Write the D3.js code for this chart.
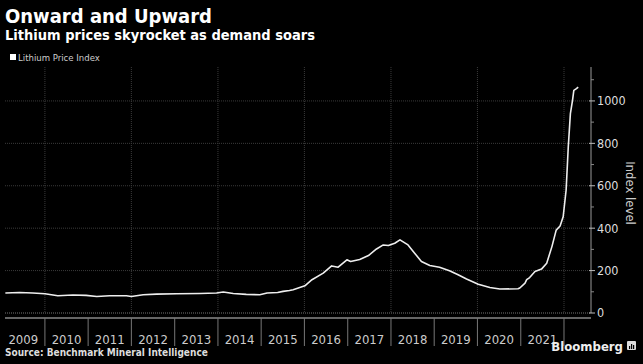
<!DOCTYPE html>
<html>
<head>
<meta charset="utf-8">
<script src="https://cdn.jsdelivr.net/npm/d3@7"></script>
<style>
  body { margin: 0; background: #000; }
  svg { display: block; font-family: "DejaVu Sans Condensed", "DejaVu Sans", sans-serif; font-stretch: condensed; }
</style>
</head>
<body>
<svg id="chart"></svg>
<script>
const width = 643;
const height = 364;

// Lithium Price Index (Benchmark Mineral Intelligence)
const dates = [
  "2009-02-01", "2009-06-01", "2009-09-20", "2010-01-01", "2010-04-20", "2010-08-25",
  "2010-12-15", "2011-03-15", "2011-07-01", "2011-11-20", "2012-01-01", "2012-04-10",
  "2012-08-01", "2013-01-20", "2013-08-01", "2013-12-20", "2014-02-15", "2014-05-10",
  "2014-08-28", "2014-12-20", "2015-02-20", "2015-05-20", "2015-07-05", "2015-08-28",
  "2015-09-28", "2016-01-05", "2016-03-05", "2016-06-08", "2016-08-18", "2016-10-12",
  "2016-12-25", "2017-01-25", "2017-04-12", "2017-06-25", "2017-09-01", "2017-10-28",
  "2017-12-10", "2018-02-02", "2018-03-18", "2018-05-25", "2018-07-20", "2018-09-15",
  "2018-11-25", "2019-02-15", "2019-05-10", "2019-07-22", "2019-10-01", "2020-01-08",
  "2020-04-15", "2020-07-08", "2020-12-08", "2020-12-24", "2021-02-06", "2021-02-20",
  "2021-03-17", "2021-05-01", "2021-06-25", "2021-08-08", "2021-09-21", "2021-10-27",
  "2021-11-29", "2021-12-25", "2022-01-19", "2022-02-06", "2022-02-24", "2022-03-14",
  "2022-03-25", "2022-04-16", "2022-05-01"
];
const values = [
  94, 97, 94, 91, 81, 85,
  83, 78, 81, 81, 78, 86,
  89, 91, 92, 94, 99, 92,
  88, 86, 94, 97, 102, 106,
  110, 128, 157, 188, 222, 216,
  251, 243, 252, 271, 302, 321,
  318, 329, 345, 321, 282, 243,
  224, 216, 199, 180, 160, 136,
  120, 113, 114, 118, 141, 157,
  167, 196, 207, 235, 313, 391,
  410, 454, 580, 783, 940, 1003,
  1050, 1058, 1065
];

const yTicks = [0, 200, 400, 600, 800, 1000];
const yMinorTicks = [100, 300, 500, 700, 900, 1100];
const yearLabels = [2009, 2010, 2011, 2012, 2013, 2014, 2015, 2016, 2017, 2018, 2019, 2020, 2021];
const yearBreaks = [2010, 2011, 2012, 2013, 2014, 2015, 2016, 2017, 2018, 2019, 2020, 2021, 2022];
const gridYears = [2010, 2012, 2014, 2016, 2018, 2020, 2022];

const parse = d3.timeParse("%Y-%m-%d");
const data = dates.map((d, i) => ({ date: parse(d), value: values[i] }));

const svg = d3.select("#chart").attr("width", width).attr("height", height);
svg.append("rect").attr("width", width).attr("height", height).attr("fill", "#000");

const x = d3.scaleTime()
  .domain([new Date(2009, 0, 29), new Date(2022, 7, 17)])
  .range([5, 591]);
const y = d3.scaleLinear().domain([0, 1160]).range([313, 67]);

// titles
svg.append("text").attr("x", 5).attr("y", 23)
  .attr("fill", "#fff").attr("font-size", 20).attr("font-weight", "bold")
  .text("Onward and Upward");
svg.append("text").attr("x", 5).attr("y", 39.5)
  .attr("fill", "#fff").attr("font-size", 14.5).attr("font-weight", "bold")
  .text("Lithium prices skyrocket as demand soars");

// legend
svg.append("rect").attr("x", 10).attr("y", 54).attr("width", 6).attr("height", 6).attr("fill", "#fff");
svg.append("text").attr("x", 18).attr("y", 60.5)
  .attr("fill", "#ccc").attr("font-size", 9.5)
  .text("Lithium Price Index");

// grid
svg.append("g").selectAll("line")
  .data(yTicks.slice(1))
  .join("line")
  .attr("x1", 5).attr("x2", 591)
  .attr("y1", d => y(d)).attr("y2", d => y(d))
  .attr("stroke", "#3a3a3a").attr("stroke-dasharray", "1,1");
svg.append("g").selectAll("line")
  .data(gridYears)
  .join("line")
  .attr("x1", d => x(new Date(d, 0, 1))).attr("x2", d => x(new Date(d, 0, 1)))
  .attr("y1", y(1160)).attr("y2", y(0))
  .attr("stroke", "#3a3a3a").attr("stroke-dasharray", "1,1");
svg.append("line")
  .attr("x1", 5).attr("x2", 591).attr("y1", y(0)).attr("y2", y(0))
  .attr("stroke", "#777").attr("stroke-dasharray", "1,1");

// y axis on the right
const yAxis = svg.append("g").attr("transform", "translate(591,0)");
yAxis.append("line").attr("y1", y(1160)).attr("y2", y(0)).attr("stroke", "#999");
yAxis.selectAll(".major").data(yTicks).join("line")
  .attr("class", "major")
  .attr("x1", -2).attr("x2", 4).attr("y1", d => y(d)).attr("y2", d => y(d))
  .attr("stroke", "#bbb");
yAxis.selectAll(".minor").data(yMinorTicks).join("line")
  .attr("class", "minor")
  .attr("x1", 0).attr("x2", 3).attr("y1", d => y(d)).attr("y2", d => y(d))
  .attr("stroke", "#888");
yAxis.selectAll("text").data(yTicks).join("text")
  .attr("x", 6).attr("y", d => y(d)).attr("dy", "0.35em")
  .attr("fill", "#ddd").attr("font-size", 12.5)
  .text(d => d);
svg.append("text")
  .attr("transform", "translate(626,193) rotate(90)")
  .attr("text-anchor", "middle")
  .attr("fill", "#ccc").attr("font-size", 13)
  .text("Index level");

// x axis band
svg.append("line").attr("x1", 5).attr("x2", 591).attr("y1", 318).attr("y2", 318)
  .attr("stroke", "#888").attr("stroke-width", 1.5);
svg.append("g").selectAll("line")
  .data(yearBreaks)
  .join("line")
  .attr("x1", d => x(new Date(d, 0, 1))).attr("x2", d => x(new Date(d, 0, 1)))
  .attr("y1", 318).attr("y2", 346)
  .attr("stroke", "#777");
svg.append("g").selectAll("text")
  .data(yearLabels)
  .join("text")
  .attr("x", d => (x(new Date(d, 0, 1)) + x(new Date(d + 1, 0, 1))) / 2)
  .attr("y", 343.5)
  .attr("text-anchor", "middle")
  .attr("fill", "#ccc").attr("font-size", 13)
  .text(d => d);

// the line
svg.append("path")
  .datum(data)
  .attr("fill", "none")
  .attr("stroke", "#eee")
  .attr("stroke-width", 1.6)
  .attr("stroke-linejoin", "round")
  .attr("d", d3.line().x(d => x(d.date)).y(d => y(d.value)));

// footer
svg.append("text").attr("x", 5).attr("y", 356)
  .attr("fill", "#ddd").attr("font-size", 10).attr("font-weight", "bold")
  .text("Source: Benchmark Mineral Intelligence");
svg.append("text").attr("x", 623).attr("y", 351)
  .attr("text-anchor", "end")
  .attr("fill", "#eee").attr("font-size", 13).attr("font-weight", "bold")
  .text("Bloomberg");
const logo = svg.append("g").attr("transform", "translate(627,341)");
logo.append("rect").attr("width", 9).attr("height", 9).attr("rx", 1).attr("fill", "#ddd");
logo.append("rect").attr("x", 2).attr("y", 5).attr("width", 1.2).attr("height", 3).attr("fill", "#000");
logo.append("rect").attr("x", 4).attr("y", 3).attr("width", 1.2).attr("height", 5).attr("fill", "#000");
logo.append("rect").attr("x", 6).attr("y", 4).attr("width", 1.2).attr("height", 4).attr("fill", "#000");
</script>
</body>
</html>
